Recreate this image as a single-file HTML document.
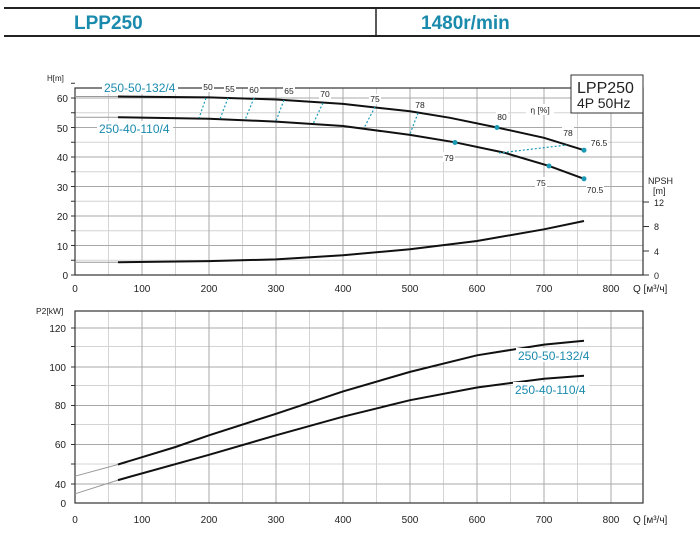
<!DOCTYPE html>
<html><head><meta charset="utf-8"><style>
body{margin:0;background:#fff;}
svg{display:block;font-family:"Liberation Sans",sans-serif;}
</style></head><body>
<svg width="700" height="534" viewBox="0 0 700 534" xmlns="http://www.w3.org/2000/svg">
<rect width="700" height="534" fill="#fff"/>
<!-- header -->
<line x1="4" y1="8" x2="700" y2="8" stroke="#222" stroke-width="2"/>
<line x1="4" y1="36" x2="700" y2="36" stroke="#222" stroke-width="2"/>
<line x1="376" y1="8" x2="376" y2="36" stroke="#222" stroke-width="1.5"/>
<text x="74" y="29" font-size="19" font-weight="bold" fill="#1a8aad">LPP250</text>
<text x="421" y="29" font-size="19" font-weight="bold" fill="#1a8aad">1480r/min</text>

<!-- top chart grid -->
<g stroke="#d4d4d4" stroke-width="1">
<line x1="75" y1="260.25" x2="643" y2="260.25"/><line x1="75" y1="230.75" x2="643" y2="230.75"/>
<line x1="75" y1="201.25" x2="643" y2="201.25"/><line x1="75" y1="171.75" x2="643" y2="171.75"/>
<line x1="75" y1="142.25" x2="643" y2="142.25"/><line x1="75" y1="112.75" x2="643" y2="112.75"/>
<line x1="108.5" y1="88" x2="108.5" y2="275"/><line x1="175.5" y1="88" x2="175.5" y2="275"/>
<line x1="242.5" y1="88" x2="242.5" y2="275"/><line x1="309.5" y1="88" x2="309.5" y2="275"/>
<line x1="376.5" y1="88" x2="376.5" y2="275"/><line x1="443.5" y1="88" x2="443.5" y2="275"/>
<line x1="510.5" y1="88" x2="510.5" y2="275"/><line x1="577.5" y1="88" x2="577.5" y2="275"/>
</g>
<g stroke="#a8a8a8" stroke-width="1">
<line x1="75" y1="245.5" x2="643" y2="245.5"/><line x1="75" y1="216" x2="643" y2="216"/>
<line x1="75" y1="186.5" x2="643" y2="186.5"/><line x1="75" y1="157" x2="643" y2="157"/>
<line x1="75" y1="127.5" x2="643" y2="127.5"/><line x1="75" y1="98" x2="643" y2="98"/>
<line x1="142" y1="88" x2="142" y2="275"/><line x1="209" y1="88" x2="209" y2="275"/>
<line x1="276" y1="88" x2="276" y2="275"/><line x1="343" y1="88" x2="343" y2="275"/>
<line x1="410" y1="88" x2="410" y2="275"/><line x1="477" y1="88" x2="477" y2="275"/>
<line x1="544" y1="88" x2="544" y2="275"/><line x1="611" y1="88" x2="611" y2="275"/>
</g>
<rect x="75" y="88" width="568" height="187" fill="none" stroke="#333" stroke-width="1.2"/>
<g stroke="#333">
<line x1="71" y1="275" x2="75" y2="275"/><line x1="71" y1="260.25" x2="75" y2="260.25"/><line x1="71" y1="245.5" x2="75" y2="245.5"/>
<line x1="71" y1="230.75" x2="75" y2="230.75"/><line x1="71" y1="216" x2="75" y2="216"/><line x1="71" y1="201.25" x2="75" y2="201.25"/>
<line x1="71" y1="186.5" x2="75" y2="186.5"/><line x1="71" y1="171.75" x2="75" y2="171.75"/><line x1="71" y1="157" x2="75" y2="157"/>
<line x1="71" y1="142.25" x2="75" y2="142.25"/><line x1="71" y1="127.5" x2="75" y2="127.5"/><line x1="71" y1="112.75" x2="75" y2="112.75"/>
<line x1="71" y1="98" x2="75" y2="98"/><line x1="71" y1="83.25" x2="75" y2="83.25"/>
</g>
<g font-size="10" fill="#222" text-anchor="end">
<text x="68" y="279">0</text><text x="68" y="250">10</text><text x="68" y="220">20</text>
<text x="68" y="191">30</text><text x="68" y="161">40</text><text x="68" y="132">50</text><text x="68" y="102">60</text>
</g>
<text x="47" y="81" font-size="8" fill="#222">H[m]</text>
<g font-size="10" fill="#222" text-anchor="middle">
<text x="75" y="292">0</text><text x="142" y="292">100</text><text x="209" y="292">200</text><text x="276" y="292">300</text>
<text x="343" y="292">400</text><text x="410" y="292">500</text><text x="477" y="292">600</text><text x="544" y="292">700</text><text x="611" y="292">800</text>
</g>
<text x="633" y="292" font-size="10" fill="#222">Q [м³/ч]</text>
<!-- NPSH axis -->
<g stroke="#333"><line x1="643" y1="275" x2="649" y2="275"/><line x1="643" y1="251" x2="649" y2="251"/><line x1="643" y1="226.5" x2="649" y2="226.5"/><line x1="643" y1="202" x2="649" y2="202"/></g>
<g font-size="9" fill="#222"><text x="654" y="279">0</text><text x="654" y="255">4</text><text x="654" y="230">8</text><text x="654" y="206">12</text>
<text x="648" y="184">NPSH</text><text x="653" y="194">[m]</text></g>
<!-- legend box -->
<rect x="571" y="75" width="72" height="38" fill="#fff" stroke="#333"/>
<text x="577" y="93" font-size="16" fill="#222">LPP250</text>
<text x="577" y="108" font-size="14" fill="#222">4P  50Hz</text>

<!-- label backgrounds -->
<g fill="#fff">
<rect x="102" y="80" width="76" height="14"/><rect x="97" y="121" width="76" height="14"/>
<rect x="202" y="82" width="12" height="10"/><rect x="224" y="84" width="12" height="10"/><rect x="248" y="85" width="12" height="10"/>
<rect x="283" y="86" width="12" height="10"/><rect x="319" y="89" width="12" height="10"/><rect x="369" y="94" width="12" height="10"/>
<rect x="414" y="99" width="12" height="10"/><rect x="496" y="111" width="12" height="10"/><rect x="526" y="104" width="28" height="11"/>
<rect x="562" y="127" width="12" height="10"/><rect x="590" y="137" width="18" height="10"/>
<rect x="443" y="152" width="12" height="10"/><rect x="535" y="177" width="12" height="10"/><rect x="586" y="184" width="18" height="10"/>
</g>
<!-- curves top -->
<g fill="none" stroke="#999" stroke-width="1"><line x1="75" y1="96.5" x2="118" y2="96.5"/><line x1="75" y1="117.2" x2="118" y2="117.2"/><line x1="75" y1="262.3" x2="118" y2="262.3"/></g>
<g fill="none" stroke="#111" stroke-width="2">
<polyline points="118,96.5 142,96.8 209,97.4 276,99.5 343,103.9 410,111.3 450,117.8 497,127.5 544,137.8 584,150.2"/>
<polyline points="118,117.2 209,118.7 276,121.6 343,126 410,134.9 455,142.3 504,152.6 549,165.9 584,178.8"/>
<polyline points="118,262.3 209,261.1 276,259.4 343,255.2 410,249.3 477,241 544,229.3 584,221"/>
</g>
<g stroke="#1a9ab5" stroke-width="1.2" stroke-dasharray="2,2">
<line x1="206" y1="98" x2="199" y2="118"/><line x1="228" y1="98" x2="220" y2="119"/>
<line x1="254" y1="98" x2="245" y2="120"/><line x1="284" y1="100" x2="276" y2="121"/>
<line x1="323" y1="103" x2="313" y2="124"/><line x1="375" y1="107" x2="364" y2="128"/>
<line x1="418" y1="113" x2="410" y2="134"/><line x1="499" y1="153" x2="567" y2="145"/>
</g>
<g fill="#1a9ab5"><circle cx="497" cy="127.5" r="2.5"/><circle cx="584" cy="150.2" r="2.5"/>
<circle cx="455" cy="142.5" r="2.5"/><circle cx="549" cy="166" r="2.5"/><circle cx="584" cy="178.8" r="2.5"/></g>
<g font-size="8.5" fill="#222" text-anchor="middle">
<text x="208" y="90">50</text><text x="230" y="92">55</text><text x="254" y="93">60</text><text x="289" y="94">65</text>
<text x="325" y="97">70</text><text x="375" y="102">75</text><text x="420" y="108">78</text>
<text x="502" y="120">80</text><text x="540" y="113">η [%]</text><text x="568" y="136">78</text><text x="599" y="146">76.5</text>
<text x="449" y="161">79</text><text x="541" y="186">75</text><text x="595" y="193">70.5</text>
</g>
<text x="104" y="92" font-size="12" fill="#1a8aad">250-50-132/4</text>
<text x="99" y="133" font-size="12" fill="#1a8aad">250-40-110/4</text>

<!-- bottom chart grid -->
<g stroke="#d4d4d4" stroke-width="1">
<line x1="75" y1="346.5" x2="643" y2="346.5"/><line x1="75" y1="385.5" x2="643" y2="385.5"/>
<line x1="75" y1="424.5" x2="643" y2="424.5"/><line x1="75" y1="464" x2="643" y2="464"/>
<line x1="108.5" y1="311" x2="108.5" y2="503"/><line x1="175.5" y1="311" x2="175.5" y2="503"/>
<line x1="242.5" y1="311" x2="242.5" y2="503"/><line x1="309.5" y1="311" x2="309.5" y2="503"/>
<line x1="376.5" y1="311" x2="376.5" y2="503"/><line x1="443.5" y1="311" x2="443.5" y2="503"/>
<line x1="510.5" y1="311" x2="510.5" y2="503"/><line x1="577.5" y1="311" x2="577.5" y2="503"/>
</g>
<g stroke="#a8a8a8" stroke-width="1">
<line x1="75" y1="328" x2="643" y2="328"/><line x1="75" y1="367" x2="643" y2="367"/>
<line x1="75" y1="405.5" x2="643" y2="405.5"/><line x1="75" y1="444.5" x2="643" y2="444.5"/>
<line x1="75" y1="484" x2="643" y2="484"/>
<line x1="142" y1="311" x2="142" y2="503"/><line x1="209" y1="311" x2="209" y2="503"/>
<line x1="276" y1="311" x2="276" y2="503"/><line x1="343" y1="311" x2="343" y2="503"/>
<line x1="410" y1="311" x2="410" y2="503"/><line x1="477" y1="311" x2="477" y2="503"/>
<line x1="544" y1="311" x2="544" y2="503"/><line x1="611" y1="311" x2="611" y2="503"/>
</g>
<rect x="75" y="311" width="568" height="192" fill="none" stroke="#333" stroke-width="1.2"/>
<g stroke="#333">
<line x1="71" y1="328" x2="75" y2="328"/><line x1="71" y1="346.5" x2="75" y2="346.5"/><line x1="71" y1="367" x2="75" y2="367"/>
<line x1="71" y1="385.5" x2="75" y2="385.5"/><line x1="71" y1="405.5" x2="75" y2="405.5"/><line x1="71" y1="424.5" x2="75" y2="424.5"/>
<line x1="71" y1="444.5" x2="75" y2="444.5"/><line x1="71" y1="464" x2="75" y2="464"/><line x1="71" y1="484" x2="75" y2="484"/>
</g>
<text x="36" y="314" font-size="8.5" fill="#222">P2[kW]</text>
<g font-size="10" fill="#222" text-anchor="end">
<text x="66" y="332">120</text><text x="66" y="371">100</text><text x="66" y="409">80</text>
<text x="66" y="448">60</text><text x="66" y="488">40</text><text x="66" y="507">0</text>
</g>
<g font-size="10" fill="#222" text-anchor="middle">
<text x="75" y="523">0</text><text x="142" y="523">100</text><text x="209" y="523">200</text><text x="276" y="523">300</text>
<text x="343" y="523">400</text><text x="410" y="523">500</text><text x="477" y="523">600</text><text x="544" y="523">700</text><text x="611" y="523">800</text>
</g>
<text x="633" y="523" font-size="10" fill="#222">Q [м³/ч]</text>
<g fill="none" stroke="#999" stroke-width="1"><line x1="75" y1="476.2" x2="118" y2="464.5"/><line x1="75" y1="493.8" x2="118" y2="480.1"/></g>
<g fill="none" stroke="#111" stroke-width="2">
<polyline points="118,464.5 175.5,447 209,435.3 276,413.8 343,391.4 410,371.9 477,355.3 544,344.6 584,340.7"/>
<polyline points="118,480.1 209,454.8 276,435.3 343,416.7 410,400.2 477,387.5 544,378.7 584,375.8"/>
</g>
<rect x="516" y="348" width="76" height="14" fill="#fff"/>
<rect x="513" y="382" width="76" height="14" fill="#fff"/>
<text x="518" y="360" font-size="12" fill="#1a8aad">250-50-132/4</text>
<text x="515" y="394" font-size="12" fill="#1a8aad">250-40-110/4</text>
</svg>
</body></html>
